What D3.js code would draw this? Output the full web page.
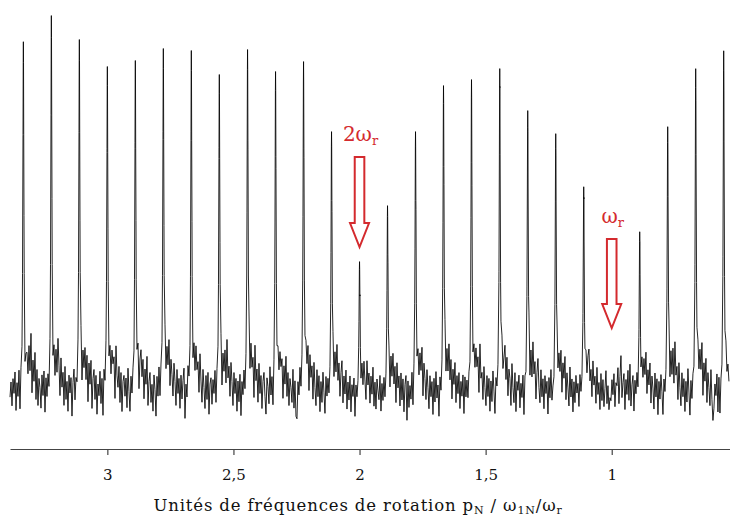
<!DOCTYPE html>
<html><head><meta charset="utf-8">
<script src="https://cdn.jsdelivr.net/npm/d3@7"></script>
<style>body{margin:0;background:#fff}svg{display:block}</style>
</head><body><svg id="c" width="730" height="516"></svg>
<script>
// ---- data ----
const peakPositions = [3.333,3.222,3.111,3.000,2.889,2.778,2.667,2.556,2.444,2.333,2.222,2.111,2.000,
  1.889,1.778,1.667,1.556,1.444,1.333,1.222,1.111,1.000,0.889,0.778,0.667,0.556];
const peakHeights = [350,376,352,325,331,343,341,317,342,320,330,260,130,
  186,260,306,312,323,281,258,205,0,160,265,323,341];
const peakHalfWidth = 0.0024;
const tickValues = [3, 2.5, 2, 1.5, 1];
const tickLabels = ["3", "2,5", "2", "1,5", "1"];
const annotationAt = [2, 1];
const annotationLabels = ["2ω", "ω"];
const annotationSubs = ["r", "r"];
const annotationTail = [235, 153];   // intensity of arrow tail
const annotationTip = [145, 64];     // intensity of arrow tip
const noiseStart = 3.386, noiseStep = 0.003965;
const noise = [].concat(
 [-6,9,-15,12,-3,18,-21,6,-9,15,-28,3,-12],
 [0,9,-12,21,30,12,42,18,56,-3,30,9,38,-9,21,-15,12,3,-18,15,-6,18,-24,9,-12,6,-18,-9],
 [0,15,-9,28,6,36,15,50,24,-6,32,3,18,-15,24,-9,9,-21,15,-3,12,-27,6,18,-15,3,-12,-6],
 [0,6,24,-6,32,18,40,9,34,-12,27,6,30,-18,12,21,-9,15,-24,6,-6,18,-15,9,-30,12,-9,-3],
 [0,12,-3,30,9,36,24,32,-9,44,15,3,24,-12,18,-21,9,15,-6,12,-18,21,-3,-24,9,-12,3,-15],
 [0,18,3,32,-6,27,38,12,30,-9,21,6,34,-15,9,18,-12,6,-21,15,0,-27,12,-9,18,-15,6,-9],
 [0,9,27,6,36,21,48,3,30,15,-6,27,9,-15,21,-3,12,-18,15,-9,9,21,-30,3,-12,15,-6,-12],
 [0,15,-6,32,12,40,18,27,-3,36,9,-12,21,3,-18,15,-9,18,-24,6,12,-15,9,-6,15,-21,3,-9],
 [0,6,21,-9,30,15,38,6,50,12,24,-6,28,9,-15,18,-3,12,-21,9,-12,15,-27,6,-9,12,-15,-6],
 [0,12,28,3,38,18,30,-9,44,9,21,-12,27,-3,15,-18,9,18,-6,-24,12,3,-15,21,-9,6,-30,-9],
 [0,9,-3,27,12,34,21,30,-9,24,6,34,-6,18,-15,12,3,-12,21,-18,9,-27,-30,6,-9,15,-12,-6],
 [0,15,6,32,18,40,-3,34,12,24,-9,28,3,-15,21,-6,15,-21,9,-12,18,-3,-24,12,-9,6,-15,-9],
 [0,9,21,0,32,15,44,9,27,-6,18,30,-12,15,-3,21,-18,9,-9,15,-21,6,-6,12,-27,3,-12,-6],
 [0,12,-6,21,3,28,9,-9,30,6,18,-12,15,-3,24,-15,9,-18,12,0,-9,15,-21,6,-12,9,-15,-6],
 [0,9,18,-6,30,12,36,6,24,-12,28,3,15,-15,18,-9,12,-21,6,15,-30,9,-18,3,-12,12,-27,-6],
 [0,15,-3,28,9,34,18,42,-6,27,12,-9,21,3,-18,15,-6,9,-24,12,-12,18,-9,3,-30,6,-15,-9],
 [0,12,27,3,34,15,44,9,30,-9,21,6,28,-12,15,-3,18,-18,9,-6,15,-24,12,-9,6,-15,3,-12],
 [0,9,-6,30,15,38,21,32,-3,46,12,18,-9,24,3,-15,15,-6,12,-21,9,-12,18,-3,-27,6,-9,-6],
 [0,18,6,34,12,28,42,9,32,-6,21,12,-15,27,3,-12,18,-21,9,0,15,-18,6,-9,12,-30,3,-9],
 [0,12,24,-3,32,9,46,15,28,-9,18,32,3,-12,21,-6,12,-18,15,-3,9,-24,12,-9,18,-15,-6,-12],
 [0,9,21,6,30,15,38,-3,27,12,34,-9,18,3,-15,24,-6,12,-21,9,-12,15,-3,6,-18,12,-9,-6],
 [0,15,3,28,12,32,40,9,21,-6,30,6,15,-12,24,-3,9,-18,18,-9,12,-15,3,21,-12,6,-18,-6],
 [-9,12,-3,18,-15,9,6,24,-12,15,36,-6,9,18,-18,12,-3,21,-9,27,-15,6,15,-21,9,-6,12,-12],
 [0,12,-6,24,9,30,15,38,-3,21,6,28,-12,15,3,-18,18,-6,12,-24,9,-9,15,-3,-27,6,-12,-6],
 [0,9,21,-3,32,12,40,6,48,15,24,-9,28,3,-15,18,-6,12,-21,9,-12,21,-3,-27,6,-15,3,-9],
 [0,15,3,30,12,36,18,46,-6,27,9,32,-12,18,3,-15,21,-9,-30,-18,6,-6,15,-24,9,-30,-3,-9],
 [0,12,-3,28,9,21,6]
);

// ---- chart ----
const svg = d3.select("#c");
const x = d3.scaleLinear().domain([3.386, 0.531]).range([10, 730]);
const y = d3.scaleLinear().domain([0, 380]).range([392, 12]);
const red = "#d42a2e";
const serif = "'DejaVu Serif', serif";

function peakSum(v) {
  let s = 0;
  peakPositions.forEach((p, i) => {
    const h = peakHeights[i];
    if (!h) return;
    const u = (v - p) / peakHalfWidth;
    s += h / (1 + u * u);
  });
  return s;
}

const pts = noise.map((n, i) => {
  const v = noiseStart - i * noiseStep;
  return {v, a: n + peakSum(v)};
});
peakPositions.forEach((p, i) => {
  if (!peakHeights[i]) return;
  [-1.4, -0.6, -0.25, 0, 0.25, 0.6, 1.4].forEach(f => {
    const v = p + f * peakHalfWidth;
    pts.push({v, a: peakSum(v)});
  });
});
pts.sort((a, b) => b.v - a.v);

svg.append("path")
  .datum(pts)
  .attr("fill", "none")
  .attr("stroke", "#000")
  .attr("stroke-width", 0.85)
  .attr("stroke-linejoin", "round")
  .attr("d", d3.line().x(d => x(d.v)).y(d => y(d.a)));

// axis
const axis = d3.axisBottom(x)
  .tickValues(tickValues)
  .tickFormat((d, i) => tickLabels[i])
  .tickSize(6)
  .tickSizeOuter(0)
  .tickPadding(14);
const gA = svg.append("g").attr("transform", "translate(0,449)").call(axis);
gA.select(".domain").attr("stroke", "#444").attr("stroke-width", 1.2);
gA.selectAll(".tick line").attr("stroke", "#444").attr("stroke-width", 1.2);
gA.selectAll(".tick text").attr("font-family", serif).attr("font-size", 15).attr("fill", "#111");

// axis title
const t = svg.append("text")
  .attr("x", 358).attr("y", 511)
  .attr("text-anchor", "middle")
  .attr("letter-spacing", 0.85)
  .attr("font-family", serif).attr("font-size", 16.5).attr("fill", "#111");
t.append("tspan").text("Unités de fréquences de rotation p");
t.append("tspan").attr("font-size", 11).attr("dy", 3).text("N");
t.append("tspan").attr("dy", -3).text(" / ω");
t.append("tspan").attr("font-size", 11).attr("dy", 3).text("1N");
t.append("tspan").attr("dy", -3).text("/ω");
t.append("tspan").attr("font-size", 11).attr("dy", 3).text("r");

// annotations
annotationAt.forEach((at, i) => {
  const cx = x(at);
  const yT = y(annotationTail[i]), yP = y(annotationTip[i]);
  const yN = yP - 24;
  svg.append("path")
    .attr("d", `M${cx-4.8},${yT}H${cx+4.8}V${yN}H${cx+9.5}L${cx},${yP}L${cx-9.5},${yN}H${cx-4.8}Z`)
    .attr("fill", "#fff").attr("stroke", red).attr("stroke-width", 2);
  const lt = svg.append("text")
    .attr("x", cx + 1).attr("y", yT - 16)
    .attr("text-anchor", "middle")
    .attr("font-family", serif).attr("font-size", 20).attr("fill", red);
  lt.append("tspan").text(annotationLabels[i]);
  lt.append("tspan").attr("font-size", 13).attr("dy", 4).text(annotationSubs[i]);
});
</script>
</body></html>
